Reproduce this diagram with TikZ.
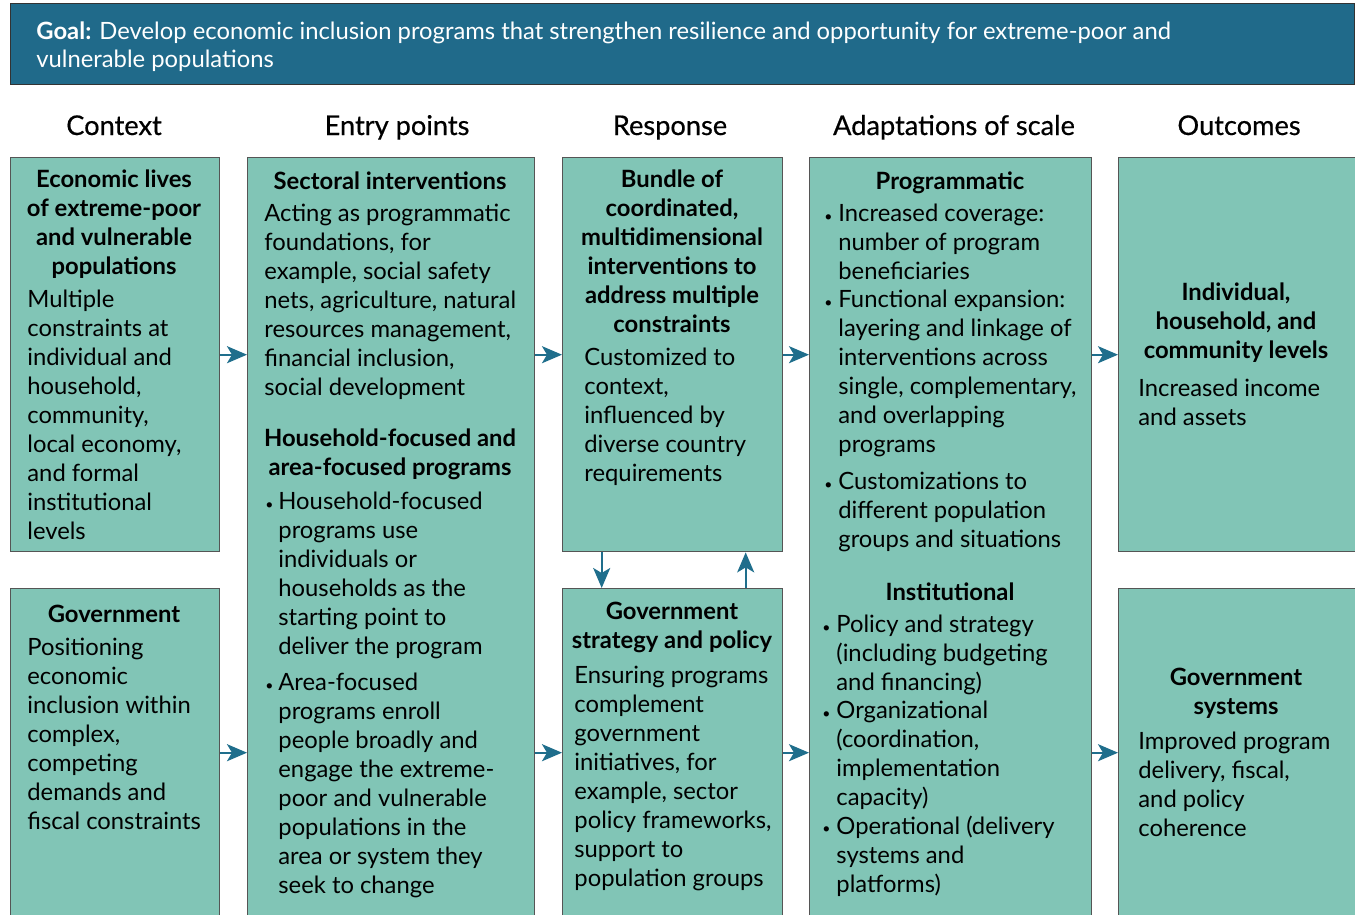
\documentclass[tikz,border=0pt]{standalone}
\usepackage{fontspec}
\setmainfont{Lato}
\newfontfamily\colfont[FakeBold=0.5]{Lato}
\usetikzlibrary{arrows.meta, positioning, calc}
\definecolor{goalblue}{RGB}{32, 106, 138}
\definecolor{panelfill}{RGB}{129, 197, 182}
\definecolor{panelline}{RGB}{85, 85, 85}
\definecolor{flowblue}{RGB}{31, 110, 140}

\tikzset{
  panel/.style={draw=panelline, fill=panelfill, line width=0.7pt, inner sep=0pt, anchor=north west},
  colhead/.style={font=\colfont\fontsize{13.6}{16}\selectfont, anchor=base},
  head/.style={font=\fontsize{11.9}{14.5}\selectfont\bfseries, align=center, inner sep=0pt, anchor=north, execute at begin node=\strut},
  body/.style={font=\fontsize{11.9}{14.5}\selectfont, align=left, inner sep=0pt, anchor=north west, execute at begin node=\strut},
  dot/.style={font=\fontsize{11.9}{14.5}\selectfont, inner sep=0pt, anchor=north east, execute at begin node=\strut},
  flow/.style={-{Stealth[length=10pt, width=8.5pt, inset=2.5pt]}, draw=flowblue, line width=1pt},
}
\newcommand{\smalldot}{\raisebox{1.6pt}{\fontsize{7}{7}\selectfont\textbullet}}

\begin{document}
\begin{tikzpicture}[x=0.5pt, y=-0.5pt]
  \useasboundingbox (0,0) rectangle (1355,915);
  \clip (0,0) rectangle (1355,915);

  % Goal banner
  \node[panel, draw=black!80, fill=goalblue, minimum width=672pt, minimum height=40.5pt] (goal) at (10,3) {};
  \node[body, text=white, font=\fontsize{11.9}{14}\selectfont] (goaltext) at (36,21)
    {\textbf{Goal:} Develop economic inclusion programs that strengthen resilience and opportunity for extreme-poor and\\vulnerable populations};

  % Column titles
  \node[colhead] (tctx) at (114,135) {Context};
  \node[colhead] (tentry) at (397,135) {Entry points};
  \node[colhead] (tresp) at (670,135) {Response};
  \node[colhead] (tadapt) at (954,135) {Adaptations of scale};
  \node[colhead] (tout) at (1239,135) {Outcomes};

  % Panels
  \node[panel, minimum width=104.5pt, minimum height=197pt] (ctx1) at (10,157) {};
  \node[panel, minimum width=104.5pt, minimum height=164pt] (ctx2) at (10,588) {};
  \node[panel, minimum width=143.5pt, minimum height=379.5pt] (entry) at (247,157) {};
  \node[panel, minimum width=110pt, minimum height=197pt] (resp1) at (562,157) {};
  \node[panel, minimum width=110pt, minimum height=164pt] (resp2) at (562,588) {};
  \node[panel, minimum width=141pt, minimum height=379.5pt] (adapt) at (809,157) {};
  \node[panel, minimum width=118.5pt, minimum height=197pt] (out1) at (1118,157) {};
  \node[panel, minimum width=118.5pt, minimum height=164pt] (out2) at (1118,588) {};

  % Context
  \node[head] (ctx1h) at (114,169) {Economic lives\\of extreme-poor\\and vulnerable\\populations};
  \node[body] (ctx1b) at (27,290) {Multiple\\constraints at\\individual and\\household,\\community,\\local economy,\\and formal\\institutional\\levels};
  \node[head] (ctx2h) at (114,602) {Government};
  \node[body] (ctx2b) at (27,638) {Positioning\\economic\\inclusion within\\complex,\\competing\\demands and\\fiscal constraints};

  % Entry points
  \node[head] (ent1h) at (390,169) {Sectoral interventions};
  \node[body] (ent1b) at (264,204) {Acting as programmatic\\foundations, for\\example, social safety\\nets, agriculture, natural\\resources management,\\financial inclusion,\\social development};
  \node[head] (ent2h) at (390,428) {Household-focused and\\area-focused programs};
  \node[body] (ent2a) at (278,492) {Household-focused\\programs use\\individuals or\\households as the\\starting point to\\deliver the program};
  \node[dot] (ent2ad) at (274,492) {\smalldot};
  \node[body] (ent2b) at (278,673) {Area-focused\\programs enroll\\people broadly and\\engage the extreme-\\poor and vulnerable\\populations in the\\area or system they\\seek to change};
  \node[dot] (ent2bd) at (274,673) {\smalldot};

  % Response
  \node[head] (resp1h) at (672,169) {Bundle of\\coordinated,\\multidimensional\\interventions to\\address multiple\\constraints};
  \node[body] (resp1b) at (584,348) {Customized to\\context,\\influenced by\\diverse country\\requirements};
  \node[head] (resp2h) at (672,602) {Government\\strategy and policy};
  \node[body] (resp2b) at (574,666) {Ensuring programs\\complement\\government\\initiatives, for\\example, sector\\policy frameworks,\\support to\\population groups};

  % Adaptations of scale
  \node[head] (ad1h) at (950,169) {Programmatic};
  \node[body] (ad1a) at (838,204) {Increased coverage:\\number of program\\beneficiaries};
  \node[dot] (ad1ad) at (833,204) {\smalldot};
  \node[body] (ad1b) at (838,290) {Functional expansion:\\layering and linkage of\\interventions across\\single, complementary,\\and overlapping\\programs};
  \node[dot] (ad1bd) at (833,290) {\smalldot};
  \node[body] (ad1c) at (838,472) {Customizations to\\different population\\groups and situations};
  \node[dot] (ad1cd) at (833,472) {\smalldot};
  \node[head] (ad2h) at (950,580) {Institutional};
  \node[body] (ad2a) at (836,615) {Policy and strategy\\(including budgeting\\and financing)};
  \node[dot] (ad2ad) at (831,615) {\smalldot};
  \node[body] (ad2b) at (836,701) {Organizational\\(coordination,\\implementation\\capacity)};
  \node[dot] (ad2bd) at (831,701) {\smalldot};
  \node[body] (ad2c) at (836,816) {Operational (delivery\\systems and\\platforms)};
  \node[dot] (ad2cd) at (831,816) {\smalldot};

  % Outcomes
  \node[head] (out1h) at (1236,282) {Individual,\\household, and\\community levels};
  \node[body] (out1b) at (1138,379) {Increased income\\and assets};
  \node[head] (out2h) at (1236,668) {Government\\systems};
  \node[body] (out2b) at (1138,732) {Improved program\\delivery, fiscal,\\and policy\\coherence};

  % Arrows
  \draw[flow] (ctx1.east) -- (ctx1.east -| entry.west);
  \draw[flow] (resp1.west -| entry.east) -- (resp1.west);
  \draw[flow] (resp1.east) -- (resp1.east -| adapt.west);
  \draw[flow] (out1.west -| adapt.east) -- (out1.west);
  \draw[flow] (ctx2.east) -- (ctx2.east -| entry.west);
  \draw[flow] (resp2.west -| entry.east) -- (resp2.west);
  \draw[flow] (resp2.east) -- (resp2.east -| adapt.west);
  \draw[flow] (out2.west -| adapt.east) -- (out2.west);
  \draw[flow] ([xshift=-35.5pt]resp1.south) -- ([xshift=-35.5pt]resp2.north);
  \draw[flow] ([xshift=36.5pt]resp2.north) -- ([xshift=36.5pt]resp1.south);
\end{tikzpicture}
\end{document}
